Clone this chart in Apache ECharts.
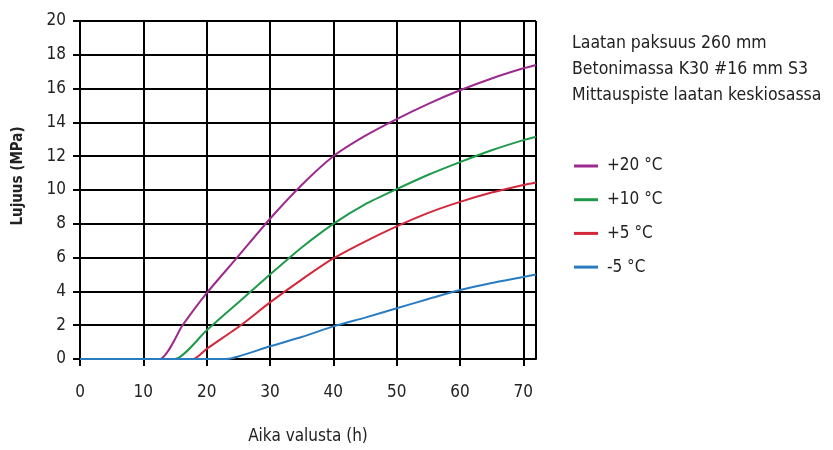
<!DOCTYPE html>
<html>
<head>
<meta charset="utf-8">
<script src="https://cdn.jsdelivr.net/npm/echarts@6/dist/echarts.min.js"></script>
<style>
  html, body { margin: 0; padding: 0; background: #fff; }
  #chart { width: 833px; height: 450px; }
</style>
</head>
<body>
<div id="chart"></div>
<script>
var FONT = '"Liberation Sans Narrow", "DejaVu Sans Condensed", "Open Sans", sans-serif';

var seriesNames = ['+20 °C', '+10 °C', '+5 °C', '-5 °C'];
var seriesColors = ['#9c2a8e', '#1f9a4a', '#d3283c', '#2a7cc0'];

// aika (h) / lujuus (MPa)
var hours20 = [0, 12.6, 16.2, 20, 24.8, 30, 35, 40, 45, 50, 55, 60, 65, 70, 72];
var mpa20   = [0, 0, 2, 3.9, 6, 8.3, 10.3, 12, 13.2, 14.2, 15.1, 15.9, 16.6, 17.2, 17.4];

var hours10 = [0, 15, 20, 25, 30, 35, 40, 45, 50, 55, 60, 65, 70, 72];
var mpa10   = [0, 0, 1.7, 3.35, 5.0, 6.6, 8, 9.15, 10.05, 10.9, 11.65, 12.35, 12.95, 13.15];

var hours5 = [0, 17.9, 20, 25.4, 30, 35, 40, 45, 50, 55, 60, 65, 70, 72];
var mpa5   = [0, 0, 0.6, 2, 3.35, 4.7, 5.95, 6.95, 7.85, 8.65, 9.3, 9.85, 10.3, 10.45];

var hoursM5 = [0, 23, 25, 30, 35, 40, 45, 50, 55, 60, 65, 70, 72];
var mpaM5   = [0, 0, 0.15, 0.75, 1.3, 1.93, 2.45, 3.0, 3.55, 4.08, 4.5, 4.85, 5.0];

var xTicks = [0, 10, 20, 30, 40, 50, 60, 70];
var yTicks = [0, 2, 4, 6, 8, 10, 12, 14, 16, 18, 20];

var infoLines = ['Laatan paksuus 260 mm', 'Betonimassa K30 #16 mm S3', 'Mittauspiste laatan keskiosassa'];

function pairs(xs, ys) {
    return xs.map(function (x, i) { return [x, ys[i]]; });
}

var allData = [pairs(hours20, mpa20), pairs(hours10, mpa10), pairs(hours5, mpa5), pairs(hoursM5, mpaM5)];

var series = allData.map(function (d, i) {
    return {
        name: seriesNames[i],
        type: 'line',
        data: d,
        smooth: 0.2,
        symbol: 'none',
        lineStyle: { color: seriesColors[i], width: 2 },
        itemStyle: { color: seriesColors[i] },
        z: 3
    };
});

var graphics = infoLines.map(function (t, i) {
    return {
        type: 'text',
        left: 572,
        top: 34 + i * 26,
        style: { text: t, font: '17.5px ' + FONT, fill: '#222' }
    };
});
graphics.push({
    type: 'text',
    x: 18,
    y: 176,
    rotation: Math.PI / 2,
    style: {
        text: 'Lujuus (MPa)', font: 'bold 15px ' + FONT, fill: '#222',
        align: 'center', verticalAlign: 'middle'
    }
});

var myChart = echarts.init(document.getElementById('chart'));
var options = {
    animation: false,
    grid: { left: 80, right: 297, top: 21, bottom: 89, containLabel: false },
    xAxis: {
        type: 'value',
        min: 0, max: 72, interval: 10,
        name: 'Aika valusta (h)',
        nameLocation: 'middle',
        nameGap: 69,
        nameTextStyle: { fontFamily: FONT, fontSize: 17, color: '#222', verticalAlign: 'top' },
        axisLine: { show: true, onZero: false, lineStyle: { color: '#000', width: 2 } },
        axisTick: { show: true, length: 7, lineStyle: { color: '#000', width: 2 } },
        axisLabel: {
            margin: 25, fontFamily: FONT, fontSize: 17, color: '#222',
            showMaxLabel: false,
            formatter: function (v) { return xTicks.indexOf(v) >= 0 ? String(v) : ''; }
        },
        splitLine: { show: true, lineStyle: { color: '#000', width: 2 } }
    },
    yAxis: {
        type: 'value',
        min: 0, max: 20, interval: 2,
        axisLine: { show: true, onZero: false, lineStyle: { color: '#000', width: 2 } },
        axisTick: { show: true, length: 7, lineStyle: { color: '#000', width: 2 } },
        axisLabel: {
            margin: 14, fontFamily: FONT, fontSize: 17, color: '#222',
            formatter: function (v) { return yTicks.indexOf(v) >= 0 ? String(v) : ''; }
        },
        splitLine: { show: true, lineStyle: { color: '#000', width: 2 } }
    },
    legend: {
        data: seriesNames,
        orient: 'vertical',
        left: 569,
        top: 151,
        itemWidth: 24,
        itemHeight: 3,
        itemGap: 13.7,
        icon: 'rect',
        textStyle: { fontFamily: FONT, fontSize: 17, color: '#222', lineHeight: 20, padding: [0, 0, 0, 4] }
    },
    graphic: graphics,
    series: series
};
myChart.setOption(options, true);
</script>
</body>
</html>
